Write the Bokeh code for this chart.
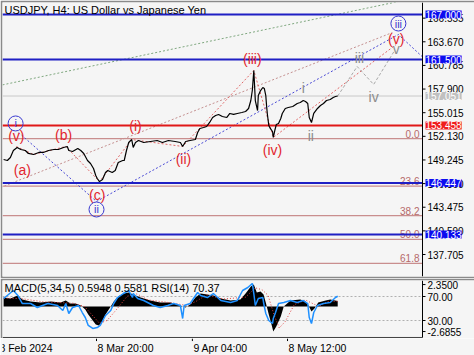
from bokeh.plotting import figure
from bokeh.models import Range1d
from bokeh.layouts import column
from bokeh.embed import file_html
from bokeh.resources import INLINE
from bokeh.core.properties import value

FONT = "Liberation Sans"
BG = "#f5f5f5"

# ---------------- data (x = H4 bar number counted from 8 Feb 2024 00:00) -------------
price_bar = [7, 12, 16, 20, 25, 30, 36, 40, 47, 54,
             60, 67, 74, 80, 87, 92, 94, 99, 106, 110,
             114, 119, 123, 127, 130, 132, 135, 139, 143, 146,
             152, 156, 160, 166, 168, 171, 174, 178, 180, 183,
             187, 194, 203, 212, 219, 227, 236, 243, 246, 250,
             256, 263, 266, 269, 274, 278, 282, 286, 290, 294,
             299, 305, 309, 314, 319, 325, 330, 334, 337, 339,
             341, 342, 343, 346, 347, 350, 353, 355, 357, 358,
             359, 361, 363, 366, 367, 369, 371, 374, 377, 379,
             383, 387, 393, 399, 403, 407, 410, 413, 415, 418,
             421, 426, 430, 434, 438, 443, 447, 450, 453]
price_close = [149.30, 149.18, 149.55, 150.40, 150.77, 150.52, 150.40, 150.04, 149.91, 150.16,
               150.16, 150.40, 150.52, 150.52, 150.77, 150.89, 150.40, 150.28, 150.65, 150.40,
               150.04, 149.18, 148.81, 148.20, 147.35, 146.98, 146.60, 146.86, 147.72, 147.96,
               147.72, 147.96, 148.94, 149.18, 149.18, 150.40, 151.38, 151.74, 150.77, 151.38,
               151.62, 151.38, 151.50, 151.62, 151.38, 151.62, 151.50, 151.38, 150.89, 151.50,
               151.62, 151.74, 152.60, 153.09, 153.21, 153.33, 153.82, 154.43, 154.67, 154.80,
               154.55, 154.43, 154.92, 154.80, 154.92, 155.04, 155.16, 155.53, 156.50, 157.72,
               160.17, 158.33, 156.50, 155.28, 157.11, 157.72, 158.09, 157.97, 157.11, 155.89,
               154.92, 153.45, 153.09, 152.72, 151.99, 152.84, 153.57, 153.70, 154.31, 154.92,
               155.53, 155.65, 155.77, 156.14, 156.26, 156.50, 156.38, 156.14, 154.43, 153.82,
               154.92, 155.53, 155.89, 156.14, 156.50, 156.63, 156.87, 156.99, 157.05]

# horizontal levels
blue_levels = [167.000, 161.500, 146.447, 140.133]
red_level = [153.458]
current_price = [157.051]
fib_levels = [151.86, 146.04, 142.45, 139.54, 136.63]
fib_names = ["0.0", "23.6", "38.2", "50.0", "61.8"]

# price-scale marker boxes
blue_box_levels = [167.000, 161.500, 146.447, 140.133]
blue_box_texts = ["167.000", "161.500", "146.447", "140.133"]
gray_box_levels = [157.051]
gray_box_texts = ["157.051"]
red_box_levels = [153.458]
red_box_texts = ["153.458"]

price_ticks = [137.705, 140.590, 143.475, 146.360, 149.245, 152.130,
               155.015, 157.900, 160.785, 163.670, 166.555]

# Elliott wave labels
red_lbl = ["(v)", "(a)", "(b)", "(c)", "(i)", "(ii)", "(iii)", "(iv)", "(v)"]
red_lbl_bar = [24, 32, 87, 132, 183, 247, 339, 366, 531]
red_lbl_price = [152.23, 148.08, 152.35, 144.91, 153.33, 149.42, 161.51, 150.40, 163.95]

blue_lbl = ["i", "ii", "iii"]
blue_lbl_bar = [23, 131, 534]
blue_lbl_price = [153.70, 143.20, 165.90]

gray_lbl = ["i", "ii", "iii", "iv", "v"]
gray_lbl_bar = [407, 417, 482, 501, 531]
gray_lbl_price = [157.97, 152.11, 161.63, 156.87, 162.73]

# wave paths / channel lines
red_path_bar = [24, 47, 90, 135, 178, 246, 341, 367, 531]
red_path_price = [150.89, 149.91, 150.89, 146.60, 151.74, 150.89, 160.17, 151.99, 163.34]
blue_path_bar = [27, 131, 534, 566]
blue_path_price = [152.60, 144.18, 164.56, 161.84]
gray_path_bar = [453, 479, 501, 529]
gray_path_price = [157.05, 160.65, 158.46, 162.61]
green_bar = [5.5, 566]
green_price = [158.41, 169.20]
brown_bar = [3, 526]
brown_price = [145.89, 164.80]

# indicators
macd_bar = [7, 16, 26, 32, 43, 56, 70, 83, 90, 96,
            103, 110, 116, 120, 126, 130, 134, 138, 143, 150,
            154, 160, 167, 174, 180, 190, 203, 216, 230, 243,
            250, 256, 263, 270, 279, 287, 297, 310, 323, 330,
            337, 341, 345, 350, 354, 357, 361, 365, 367, 371,
            377, 381, 390, 403, 410, 414, 418, 422, 427, 437,
            443, 453]
macd_val = [0.96, 0.86, 1.18, 0.75, 0.54, 0.43, 0.54, 0.43, 0.64, 0.32,
            0.32, 0.11, -0.32, -0.86, -1.5, -1.93, -2.04, -1.71, -0.86, 0.0,
            0.54, 1.07, 1.39, 1.5, 1.29, 0.96, 0.64, 0.43, 0.43, 0.11,
            -0.11, 0.21, 0.96, 1.39, 1.29, 1.18, 0.86, 0.64, 0.75, 1.39,
            2.14, 2.35, 1.5, 1.61, 1.29, 0.43, -0.86, -2.04, -2.6855, -2.14,
            -1.07, 0.0, 0.64, 0.75, 0.54, 0.11, -0.54, -0.21, 0.43, 0.64,
            0.75, 0.5948]
sig_bar = [7, 30, 60, 100, 115, 125, 135, 145, 158, 172,
           185, 200, 230, 252, 265, 278, 300, 330, 343, 352,
           360, 368, 375, 383, 395, 410, 420, 428, 440, 453]
sig_val = [0.9, 0.85, 0.5, 0.35, 0.0, -0.9, -1.8, -1.5, -0.3, 1.1,
           1.35, 0.7, 0.4, 0.1, 0.6, 1.25, 0.8, 1.0, 2.0, 1.8,
           1.2, -0.9, -2.3, -1.6, 0.2, 0.7, 0.3, 0.0, 0.55, 0.5581]
rsi_bar = [7, 20, 26, 32, 43, 52, 66, 79, 86, 90,
           94, 99, 107, 112, 116, 120, 126, 132, 136, 143,
           150, 154, 159, 167, 174, 179, 180, 186, 194, 207,
           216, 226, 234, 243, 246, 248, 256, 266, 270, 279,
           287, 297, 310, 319, 326, 333, 339, 341, 343, 347,
           353, 354, 357, 361, 366, 367, 370, 374, 381, 390,
           399, 407, 413, 415, 418, 421, 426, 434, 443, 450,
           453]
rsi_val = [66.7, 80, 71.7, 58.3, 58.3, 51.7, 58.3, 55, 46.7, 58.3,
           41.7, 51.7, 55, 43.3, 35, 21.7, 16.7, 18.3, 21.7, 38.3,
           46.7, 58.3, 68.3, 75, 80, 68.3, 75, 66.7, 63.3, 55,
           51.7, 55, 58.3, 55, 33.3, 55, 58.3, 76.7, 71.7, 68.3,
           75, 63.3, 60, 63.3, 80, 85, 91.7, 75, 55, 66.7,
           68.3, 60, 41.7, 30, 25, 33.3, 43.3, 58.3, 60, 63.3,
           60, 63.3, 58.3, 35, 25, 43.3, 55, 58.3, 60, 68.3,
           70.37]
macd_scale = [2.35, -2.6855]
macd_scale_txt = ["2.3500", "-2.6855"]
rsi_levels = [70, 30]
rsi_levels_txt = ["70.00", "30.00"]

time_ticks = [0, 131, 259, 386]
time_labels = ["8 Feb 2024", "8 Mar 20:00", "9 Apr 04:00", "8 May 12:00"]

title_text = "USDJPY, H4:  US Dollar vs Japanese Yen"
ind_text = "MACD(5,34,5) 0.5948 0.5581 RSI(14) 70.37"

# ---------------- geometry / styling ----------------
X_START, X_AXIS = 5.5, 566.2          # chart area (bars)
PXB = 420 / (X_AXIS - X_START)        # pixels per bar
X_FULL = X_AXIS + 52 / PXB            # includes the price-scale strip
TICK = 3 / PXB
P_LO, P_HI = 135.02, 168.465
M_LO, M_HI, M_BASE = -3.43, 2.787, -3.32
R_LO, R_HI = 0.0, 96.67

BLUE = "#1f1fc4"
BOX_BLUE = "#0c0cf0"
BOX_GRAY = "#c0c0c0"
BOX_RED = "#f01c1c"
RED = "#e01818"
FIB = "#c98e8e"
RED_TXT = "#e2262e"
GRAY_TXT = "#8c8c8c"
CIRC = "#3a3ad0"
FRAME = "#8a8a8a"

def panel(height, y_range, top):
    f = figure(width=474, height=height, x_range=Range1d(X_START, X_FULL), y_range=y_range,
               output_backend="svg", toolbar_location=None, x_axis_location=None,
               y_axis_location=None, min_border_left=2, min_border_right=0,
               min_border_top=top, min_border_bottom=0, background_fill_color=BG,
               border_fill_color=FRAME, outline_line_color=None)
    f.grid.visible = False
    return f

# ---------------- main price chart ----------------
p = panel(278, Range1d(P_LO, P_HI), 2)
p.min_border_bottom = 2

def hlines(fig, levels, **kw):
    n = len(levels)
    fig.segment(x0=[X_START] * n, y0=levels, x1=[X_AXIS] * n, y1=levels, **kw)

hlines(p, fib_levels, line_color=FIB, line_width=1.2)
hlines(p, current_price, line_color="#c8c8c8", line_width=1)
p.text(x=[X_AXIS] * len(fib_levels), y=fib_levels, text=fib_names, text_font=value(FONT),
       text_font_size="10px", text_color="#b56a6a", text_align="right",
       text_baseline="bottom", x_offset=-3, y_offset=-1)

# dotted wave lines
p.line(green_bar, green_price, line_color="#7fa77f", line_dash="2 2", line_width=1)
p.line(brown_bar, brown_price, line_color="#c49090", line_dash="2 2", line_width=1)
p.line(blue_path_bar, blue_path_price, line_color="#4a4ad6", line_dash="2 2", line_width=1)
p.line(red_path_bar, red_path_price, line_color="#e06868", line_dash="2 2", line_width=1)
p.line(gray_path_bar, gray_path_price, line_color="#a8a8a8", line_dash="3 2", line_width=1)

hlines(p, blue_levels, line_color=BLUE, line_width=2)
hlines(p, red_level, line_color=RED, line_width=2)

# price
p.line(price_bar, price_close, line_color="#000000", line_width=1.2)

# wave labels
p.text(x=red_lbl_bar, y=red_lbl_price, text=red_lbl, text_font=value(FONT),
       text_font_size="14px", text_color=RED_TXT, text_align="center", text_baseline="middle")
p.text(x=gray_lbl_bar, y=gray_lbl_price, text=gray_lbl, text_font=value(FONT),
       text_font_size="14px", text_color=GRAY_TXT, text_align="center", text_baseline="middle")
p.scatter(x=blue_lbl_bar, y=blue_lbl_price, marker="circle", size=15, fill_color=None,
          line_color=CIRC, line_width=1)
p.text(x=blue_lbl_bar, y=blue_lbl_price, text=blue_lbl, text_font=value(FONT),
       text_font_size="11px", text_color=CIRC, text_align="center", text_baseline="middle")

p.text(x=[X_START], y=[P_HI], text=[title_text], text_font=value(FONT), text_font_size="11px",
       text_color="#000000", text_align="left", text_baseline="top", x_offset=2, y_offset=1)

# price scale on the right
nt = len(price_ticks)
p.segment(x0=[X_AXIS], y0=[P_LO], x1=[X_AXIS], y1=[P_HI], line_color="#000000", line_width=1)
p.segment(x0=[X_AXIS] * nt, y0=price_ticks, x1=[X_AXIS + TICK] * nt, y1=price_ticks,
          line_color="#000000", line_width=1)
p.text(x=[X_AXIS] * nt, y=price_ticks, text=[f"{v:.3f}" for v in price_ticks],
       text_font=value(FONT), text_font_size="10px", text_color="#000000",
       text_align="left", text_baseline="middle", x_offset=5)
for lv, tx, col in ((blue_box_levels, blue_box_texts, BOX_BLUE),
                    (gray_box_levels, gray_box_texts, BOX_GRAY),
                    (red_box_levels, red_box_texts, BOX_RED)):
    p.text(x=[X_AXIS] * len(lv), y=lv, text=tx, text_font=value(FONT), text_font_size="10px",
           text_color="#ffffff", text_align="left", text_baseline="middle", x_offset=3,
           background_fill_color=col, padding=0)

# ---------------- indicator panel ----------------
q = panel(60, Range1d(M_LO, M_HI), 2)
q.extra_y_ranges = {"rsi": Range1d(R_LO, R_HI)}

hlines(q, rsi_levels, y_range_name="rsi", line_color="#b0b0b0", line_dash="2 2", line_width=1)
q.varea(x=macd_bar, y1=[0] * len(macd_bar), y2=macd_val, fill_color="#000000")
q.line(sig_bar, sig_val, line_color="#e04040", line_dash="1 2", line_width=1)
q.line(rsi_bar, rsi_val, y_range_name="rsi", line_color="#1e90ff", line_width=1.5)

# indicator scale
hlines(q, [M_BASE], line_color="#404040", line_width=1)
q.segment(x0=[X_AXIS], y0=[M_BASE], x1=[X_AXIS], y1=[M_HI], line_color="#000000", line_width=1)
q.segment(x0=[X_AXIS] * 2, y0=macd_scale, x1=[X_AXIS + TICK] * 2, y1=macd_scale,
          line_color="#000000")
q.segment(x0=[X_AXIS] * 2, y0=rsi_levels, x1=[X_AXIS + TICK] * 2, y1=rsi_levels,
          line_color="#000000", y_range_name="rsi")
q.text(x=[X_AXIS] * 2, y=macd_scale, text=macd_scale_txt, text_font=value(FONT),
       text_font_size="10px", text_color="#000000", text_align="left", text_baseline="middle",
       x_offset=5)
q.text(x=[X_AXIS] * 2, y=rsi_levels, text=rsi_levels_txt, text_font=value(FONT),
       text_font_size="10px", text_color="#000000", text_align="left", text_baseline="middle",
       x_offset=5, y_range_name="rsi")

q.text(x=[X_START], y=[M_HI], text=[ind_text], text_font=value(FONT), text_font_size="11px",
       text_color="#000000", text_align="left", text_baseline="top", x_offset=2, y_offset=1)

# ---------------- time scale strip ----------------
t = panel(17, Range1d(0, 1), 0)
t.border_fill_color = BG
t.segment(x0=time_ticks, y0=[1] * 4, x1=time_ticks, y1=[0.85] * 4, line_color="#000000")
t.text(x=time_ticks, y=[0.45] * 4, text=time_labels, text_font=value(FONT),
       text_font_size="10.5px", text_color="#000000", text_align="left", text_baseline="middle",
       x_offset=1)

layout = column(p, q, t, spacing=0)
open("out.html", "w").write(file_html(layout, INLINE))
